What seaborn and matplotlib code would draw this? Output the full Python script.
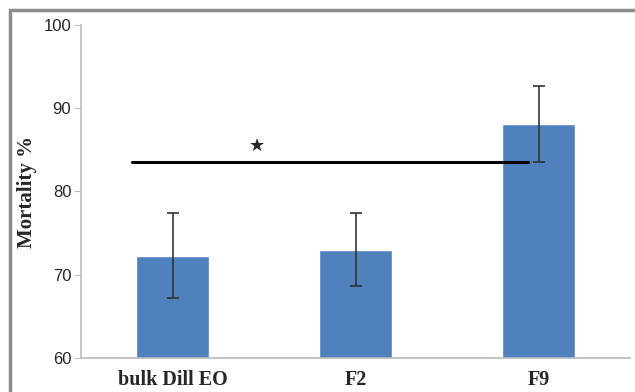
import matplotlib
matplotlib.use("Agg")
import matplotlib.pyplot as plt
import seaborn as sns
import pandas as pd
from matplotlib.patches import Rectangle

categories = ["bulk Dill EO", "F2", "F9"]
mortality = [72.3, 73.0, 88.1]
errors = [5.1, 4.4, 4.55]
y_ticks = [60, 70, 80, 90, 100]
sig_line_y = 83.5
sig_line_x = [-0.22, 1.94]
star_pos = (0.46, 85.5)

df = pd.DataFrame({"cat": categories, "val": mortality})

sns.set_style("white")
fig = plt.figure(figsize=(6.35, 3.92), dpi=100)
ax = fig.add_axes([81/635, 1-358/392, (630-81)/635, (358-25)/392])

sns.barplot(data=df, x="cat", y="val", color="#4F81BD", saturation=1,
            width=0.4, ax=ax, errorbar=None)
ax.errorbar(range(len(categories)), mortality, yerr=errors, fmt="none",
            ecolor="#333333", elinewidth=1.2, capsize=4, capthick=1.2)

ax.plot(sig_line_x, [sig_line_y, sig_line_y], color="black", lw=2.2)
ax.text(star_pos[0], star_pos[1], "★", ha="center", va="center", fontsize=13,
        family="DejaVu Sans")

ax.set_ylim(60, 100)
ax.set_xlim(-0.5, 2.5)
ax.set_yticks(y_ticks)
ax.set_yticklabels([str(t) for t in y_ticks], fontsize=12, family="Liberation Sans")
ax.set_xticks(range(len(categories)))
ax.set_xticklabels(categories, fontsize=14.5, fontweight="bold", family="Liberation Serif")
ax.set_xlabel("")
ax.set_ylabel("Mortality %", fontsize=15, fontweight="bold", family="Liberation Serif")
ax.yaxis.set_label_coords(-0.080, 0.5)
for s in ["top", "right"]:
    ax.spines[s].set_visible(False)
for s in ["left", "bottom"]:
    ax.spines[s].set_color("#BBBBBB")
    ax.spines[s].set_linewidth(1.2)
ax.tick_params(axis="y", which="both", left=True, length=5, color="#BBBBBB", pad=2)
ax.tick_params(axis="x", which="both", bottom=False, pad=5)

fig.patches.append(Rectangle((10/635, -0.05), 1.1, 1 - 10/392 + 0.05,
                             transform=fig.transFigure, fill=False,
                             edgecolor="#8C8C8C", lw=2.5, zorder=10))

fig.savefig("out.png", dpi=100)
